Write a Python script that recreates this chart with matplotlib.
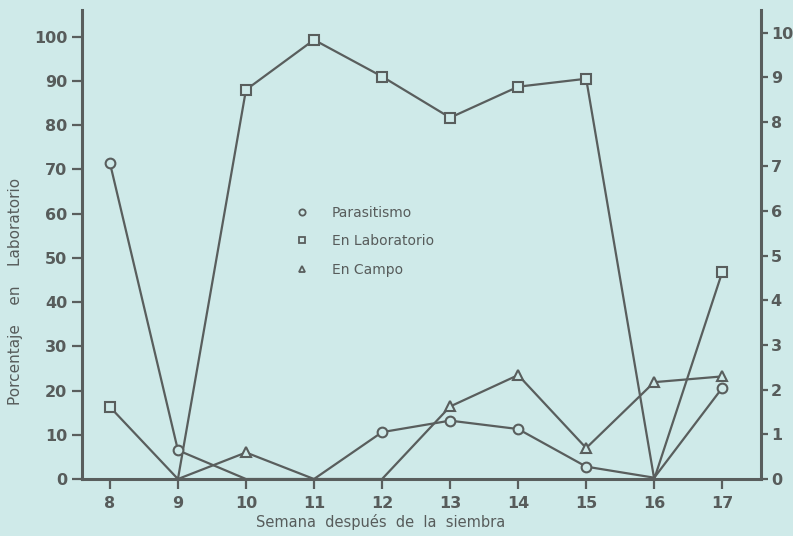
import numpy as np
import matplotlib
matplotlib.use("Agg")
import matplotlib.pyplot as plt
from matplotlib.lines import Line2D

weeks = [8, 9, 10, 11, 12, 13, 14, 15, 16, 17]
parasitismo = [71.5, 6.5, 0, 0, 10.6, 13.2, 11.3, 2.8, 0.3, 20.6]
laboratorio = [16.3, 0, 88, 99.3, 91, 81.7, 88.7, 90.5, 0, 46.8]
campo = [np.nan, 0, 6.0, 0, 0, 16.4, 23.5, 7.0, 21.9, 23.2]

left_ticks = list(range(0, 101, 10))
right_ticks = list(range(0, 11))
labels = ["Parasitismo", "En Laboratorio", "En Campo"]
xlabel = "Semana  después  de  la  siembra"
ylabel = "Porcentaje    en    Laboratorio"

bg = "#cfeae9"
ink = "#595e5d"
txt = "#575c5b"

fig = plt.figure(figsize=(7.93, 5.36), dpi=100)
fig.patch.set_facecolor(bg)
ax = fig.add_axes([0.1034, 0.1063, 0.8563, 0.8747])
ax.set_facecolor(bg)

series = [(parasitismo, "o", 7), (laboratorio, "s", 7.5), (campo, "^", 7)]
handles = []
for (vals, mk, ms), lab in zip(series, labels):
    v = np.array(vals, dtype=float)
    ax.plot(weeks, v, color=ink, lw=1.6, zorder=2, clip_on=False)
    m = np.where(v > 1, v, np.nan)
    ax.plot(weeks, m, ls="none", marker=mk, ms=ms, mfc=bg, mec=ink, mew=1.5,
            zorder=3, clip_on=False)
    handles.append(Line2D([], [], ls="none", marker=mk, ms=4.5, mfc=bg,
                          mec=ink, mew=1.3, label=lab))

ax.set_xlim(7.59, 17.57)
ax.set_ylim(0, 106)
ax.set_xticks(weeks)
ax.set_yticks(left_ticks)
ax.tick_params(axis="both", colors=ink, labelcolor=txt, labelsize=11.5,
               width=1.6, length=7)
ax.tick_params(axis="x", pad=5)
for lbl in ax.get_xticklabels() + ax.get_yticklabels():
    lbl.set_fontweight("semibold")
for s in ["top", "right"]:
    ax.spines[s].set_visible(False)
for s in ["left", "bottom"]:
    ax.spines[s].set_color(ink)
    ax.spines[s].set_linewidth(2.2)

ax2 = ax.twinx()
ax2.set_ylim(0, 10.5)
ax2.set_yticks(right_ticks)
ax2.tick_params(axis="y", colors=ink, labelcolor=txt, labelsize=11.5,
                width=1.6, length=5, pad=2)
for lbl in ax2.get_yticklabels():
    lbl.set_fontweight("semibold")
for s in ["top", "left", "bottom"]:
    ax2.spines[s].set_visible(False)
ax2.spines["right"].set_color(ink)
ax2.spines["right"].set_linewidth(2.2)

ax.set_xlabel(xlabel, color=txt, fontsize=10.5)
ax.xaxis.set_label_coords(0.44, -0.075)
ax.set_ylabel(ylabel, color=txt, fontsize=11)
ax.yaxis.set_label_coords(-0.087, 0.40)

leg = ax.legend(handles=handles, loc="upper left",
                bbox_to_anchor=(0.296, 0.61), frameon=False, fontsize=10,
                handlelength=1.0, handletextpad=1.6, labelspacing=1.05,
                labelcolor=txt)

fig.savefig("out.png", dpi=100, facecolor=bg)
